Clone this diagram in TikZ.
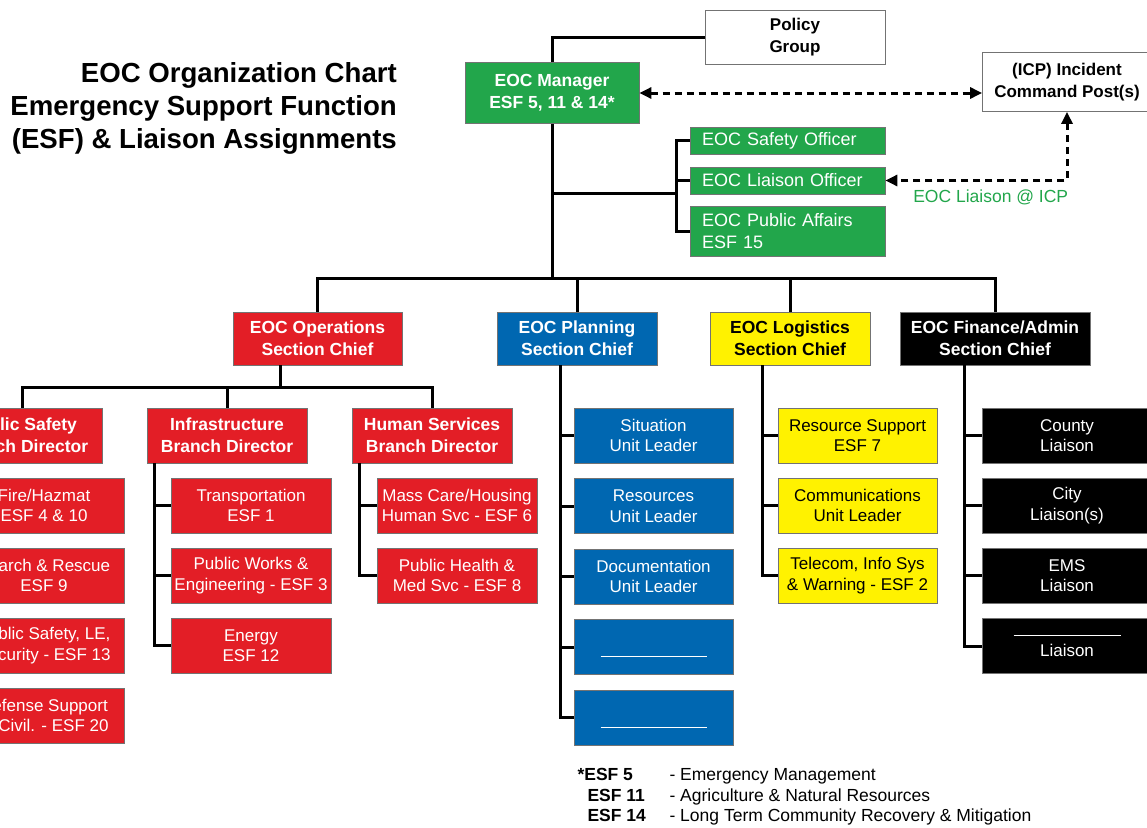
\documentclass[tikz,border=0pt]{standalone}
\usepackage{fontspec}
\setmainfont{Liberation Sans}
\usetikzlibrary{positioning,arrows.meta}

\definecolor{esfred}{HTML}{E31E26}
\definecolor{esfblue}{HTML}{0067B1}
\definecolor{esfyellow}{HTML}{FFF200}
\definecolor{esfgreen}{HTML}{22A64B}

\tikzset{
  orgbox/.style={draw=black!55, line width=0.8pt, minimum height=55pt, inner sep=2pt,
    align=center, font=\fontsize{17}{20.5}\selectfont},
  chief/.style={minimum height=53pt, font=\fontsize{17.5}{22}\selectfont\bfseries},
  redbox/.style={orgbox, fill=esfred, text=white, minimum width=160pt},
  bluebox/.style={orgbox, fill=esfblue, text=white, minimum width=159pt},
  yellowbox/.style={orgbox, fill=esfyellow, text=black, minimum width=159pt},
  blackbox/.style={orgbox, fill=black, text=white, minimum width=170pt},
  greenbox/.style={orgbox, fill=esfgreen, text=white},
  officer/.style={greenbox, align=left, minimum height=27pt, inner xsep=12pt, inner ysep=2pt,
    text width=171pt, font=\fontsize{18}{22}\selectfont},
  whitebox/.style={orgbox, fill=white, text=black, font=\fontsize{17}{22}\selectfont\bfseries},
  note/.style={anchor=base west, font=\fontsize{17.5}{20}\selectfont},
  link/.style={line width=3pt},
  dashlink/.style={line width=3pt, dash pattern=on 7pt off 5pt,
    {Triangle[length=12pt,width=11pt]}-{Triangle[length=12pt,width=11pt]}}
}

\begin{document}
\begin{tikzpicture}[x=1pt,y=-1pt,on grid]
  \useasboundingbox (0,0) rectangle (1147,827);
  \clip (0,0) rectangle (1147,827);

  % title
  \node[anchor=north east, inner sep=0pt, align=right, font=\fontsize{27.6}{33}\selectfont\bfseries]
    (title) at (397,62) {EOC Organization Chart\\Emergency Support Function\\(ESF) \& Liaison Assignments};

  % top of the chart
  \node[greenbox, chief, minimum width=174pt, minimum height=61pt] (manager) at (552,93) {EOC Manager\\ESF 5, 11 \& 14*};
  \node[whitebox, minimum width=180pt, minimum height=54pt] (policy) at (795,37) {Policy\\Group};
  \node[whitebox, minimum width=169pt, minimum height=59pt] (icp) at (1067,82) {(ICP) Incident\\Command Post(s)};

  \node[officer] (safety) at (787.5,140.5) {EOC Safety Officer};
  \node[officer] (liaison) [below=40pt of safety] {EOC Liaison Officer};
  \node[officer, minimum height=50pt] (affairs) [below=90.5pt of safety] {EOC Public Affairs\\ESF 15};

  % section chiefs
  \node[redbox, chief, minimum width=169pt] (ops) at (317.5,338.5) {EOC Operations\\Section Chief};
  \node[bluebox, chief, minimum width=160pt] (planning) at (577,338.5) {EOC Planning\\Section Chief};
  \node[yellowbox, chief, minimum width=160pt] (logistics) at (790,338.5) {EOC Logistics\\Section Chief};
  \node[blackbox, chief, minimum width=190pt] (finance) at (995,338.5) {EOC Finance/Admin\\Section Chief};

  % operations branches
  \node[redbox, chief, minimum height=55pt] (psafety) at (22,435.5) {Public Safety\\Branch Director};
  \node[redbox, chief, minimum height=55pt] (infra) at (227,435.5) {Infrastructure\\Branch Director};
  \node[redbox, chief, minimum height=55pt] (human) at (432,435.5) {Human Services\\Branch Director};

  \node[redbox] (fire) [below right=70pt and 22pt of psafety] {Fire/Hazmat\\ESF 4 \& 10};
  \node[redbox] (sar) [below=70pt of fire] {Search \& Rescue\\ESF 9};
  \node[redbox] (security) [below=70pt of sar] {Public Safety, LE,\\Security - ESF 13};
  \node[redbox] (defense) [below=70pt of security] {Defense Support\\of Civil. - ESF 20};

  \node[redbox] (trans) [below right=70pt and 24pt of infra] {Transportation\\ESF 1};
  \node[redbox] (pubworks) [below=70pt of trans] {Public Works \&\\Engineering - ESF 3};
  \node[redbox] (energy) [below=70pt of pubworks] {Energy\\ESF 12};

  \node[redbox] (masscare) [below right=70pt and 25pt of human] {Mass Care/Housing\\Human Svc - ESF 6};
  \node[redbox] (pubhealth) [below=70pt of masscare] {Public Health \&\\Med Svc - ESF 8};

  % planning units
  \node[bluebox] (situation) [below right=97pt and 76.5pt of planning] {Situation\\Unit Leader};
  \node[bluebox] (resources) [below=70.5pt of situation] {Resources\\Unit Leader};
  \node[bluebox] (documentation) [below=70.5pt of resources] {Documentation\\Unit Leader};
  \node[bluebox] (blank_a) [below=70.5pt of documentation] {~\\\rule{106pt}{1.2pt}};
  \node[bluebox] (blank_b) [below=70.5pt of blank_a] {~\\\rule{106pt}{1.2pt}};

  % logistics units
  \node[yellowbox] (ressupport) [below right=97pt and 67.5pt of logistics] {Resource Support\\ESF 7};
  \node[yellowbox] (comms) [below=70pt of ressupport] {Communications\\Unit Leader};
  \node[yellowbox] (telecom) [below=70pt of comms] {Telecom, Info Sys\\\& Warning - ESF 2};

  % finance liaisons
  \node[blackbox] (county) [below right=97pt and 72pt of finance] {County\\Liaison};
  \node[blackbox] (city) [below=70pt of county] {City\\Liaison(s)};
  \node[blackbox] (ems) [below=70pt of city] {EMS\\Liaison};
  \node[blackbox] (other) [below=70.5pt of ems] {\rule{107pt}{1.2pt}\\Liaison};

  % connectors
  \coordinate (bus) at (552,278);
  \coordinate (staff) at (676,193);
  \coordinate (ops_bus) at (280,387);

  \draw[link] (manager.north) |- (policy.west);
  \draw[link] (manager.south) -- (bus);
  \draw[link] (manager.south |- staff) -- (staff);
  \draw[link] (safety.west) -| (staff) |- (affairs.west);
  \draw[link] (liaison.west) -- (liaison.west -| staff);

  \draw[link] (ops.north) |- (bus) -| (finance.north);
  \draw[link] (planning.north) -- (planning.north |- bus);
  \draw[link] (logistics.north) -- (logistics.north |- bus);

  \draw[link] (ops.south -| ops_bus) -- (ops_bus);
  \draw[link] (psafety.north) |- (ops_bus) -| (human.north);
  \draw[link] (infra.north) -- (infra.north |- ops_bus);

  \coordinate (psafety_line) at ([xshift=-15pt]fire.west);
  \draw[link] (psafety_line |- psafety.south) |- (defense.west);
  \foreach \k in {fire,sar,security}
    \draw[link] (\k.west) -- (\k.west -| psafety_line);

  \coordinate (infra_line) at ([xshift=-16pt]trans.west);
  \draw[link] (infra_line |- infra.south) |- (energy.west);
  \foreach \k in {trans,pubworks}
    \draw[link] (\k.west) -- (\k.west -| infra_line);

  \coordinate (human_line) at ([xshift=-17pt]masscare.west);
  \draw[link] (human_line |- human.south) |- (pubhealth.west);
  \draw[link] (masscare.west) -- (masscare.west -| human_line);

  \coordinate (planning_line) at ([xshift=-13pt]situation.west);
  \draw[link] (planning_line |- planning.south) |- (blank_b.west);
  \foreach \k in {situation,resources,documentation,blank_a}
    \draw[link] (\k.west) -- (\k.west -| planning_line);

  \coordinate (logistics_line) at ([xshift=-15pt]ressupport.west);
  \draw[link] (logistics_line |- logistics.south) |- (telecom.west);
  \foreach \k in {ressupport,comms}
    \draw[link] (\k.west) -- (\k.west -| logistics_line);

  \coordinate (finance_line) at ([xshift=-17pt]county.west);
  \draw[link] (finance_line |- finance.south) |- (other.west);
  \foreach \k in {county,city,ems}
    \draw[link] (\k.west) -- (\k.west -| finance_line);

  % links to the incident command post
  \draw[dashlink] (manager.east) -- (manager.east -| icp.west);
  \draw[dashlink] (icp.south) |- (liaison.east)
    node[pos=0.71, below=4pt, text=esfgreen, font=\fontsize{17.5}{20}\selectfont] (liaison_note) {EOC Liaison @ ICP};

  % footnote
  \node[note, font=\fontsize{17.5}{20}\selectfont\bfseries] (esf5) at (574,780) {*ESF 5};
  \node[note, font=\fontsize{17.5}{20}\selectfont\bfseries] (esf11) at (584,801) {ESF 11};
  \node[note, font=\fontsize{17.5}{20}\selectfont\bfseries] (esf14) at (584,821) {ESF 14};
  \node[note] (esf5_text) at (666,780) {- Emergency Management};
  \node[note] (esf11_text) at (666,801) {- Agriculture \& Natural Resources};
  \node[note] (esf14_text) at (666,821) {- Long Term Community Recovery \& Mitigation};
\end{tikzpicture}
\end{document}
